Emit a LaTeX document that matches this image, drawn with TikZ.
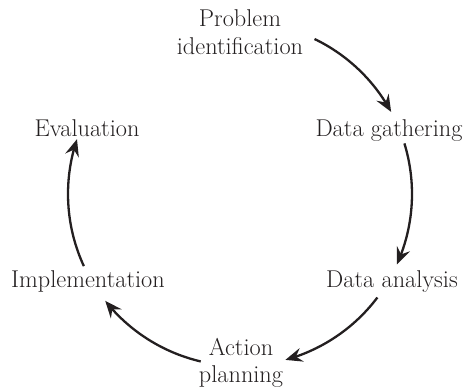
\documentclass[tikz,border=0pt]{standalone}
\usepackage{fontspec}
\usetikzlibrary{arrows.meta,bending}
\definecolor{ink}{RGB}{35,31,32}
\begin{document}
\begin{tikzpicture}[x=1pt,y=1pt,
  stage/.style={font=\fontsize{24.3}{28}\selectfont, text=ink, inner sep=0pt, align=center},
  cyclearrow/.style={draw=ink, line width=2.3pt,
    -{Stealth[length=17pt,width=14pt,inset=6pt]}}]
\useasboundingbox (0,0) rectangle (467,389);

% centre of the cycle
\coordinate (o) at (240,195);

% stages
\node[stage, anchor=base] (prob) at (240,362) {Problem};
\node[stage, anchor=base] (ident) at (240,334) {identification};
\node[stage, anchor=base] (gather) at (389,252) {Data gathering};
\node[stage, anchor=base] (analysis) at (392,101) {Data analysis};
\node[stage, anchor=base] (action) at (241,33) {Action};
\node[stage, anchor=base] (plan) at (241,6) {planning};
\node[stage, anchor=base] (impl) at (88,101) {Implementation};
\node[stage, anchor=base] (eval) at (87,252) {Evaluation};

% start points of the arrows on the circle
\path (o) ++(64.3:172) coordinate (s1);
\path (o) ++(17.1:172) coordinate (s2);
\path (o) ++(-37:172) coordinate (s3);
\path (o) ++(-103.2:172) coordinate (s4);
\path (o) ++(-155.2:172) coordinate (s5);

\draw[cyclearrow] (s1) arc[start angle=64.3, end angle=28.5, radius=172];
\draw[cyclearrow] (s2) arc[start angle=17.1, end angle=-24.2, radius=172];
\draw[cyclearrow] (s3) arc[start angle=-37, end angle=-74.7, radius=172];
\draw[cyclearrow] (s4) arc[start angle=-103.2, end angle=-141.6, radius=172];
\draw[cyclearrow] (s5) arc[start angle=204.8, end angle=161.4, radius=172];
\end{tikzpicture}
\end{document}
